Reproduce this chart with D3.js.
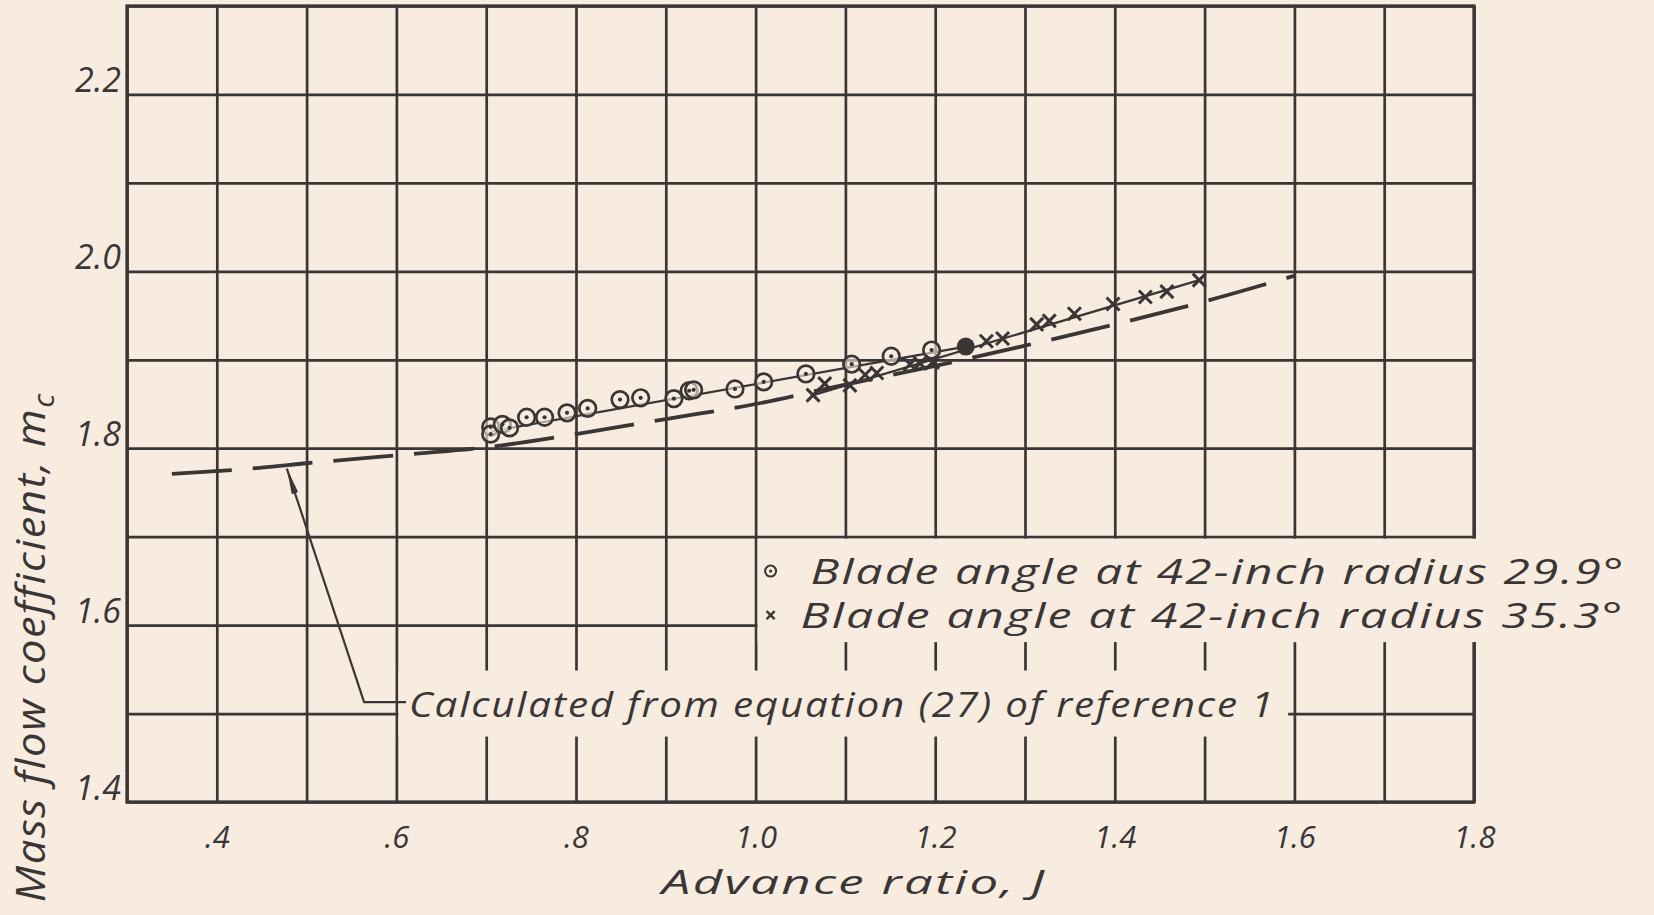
<!DOCTYPE html>
<html>
<head>
<meta charset="utf-8">
<script src="https://cdn.jsdelivr.net/npm/d3@7"></script>
<style>
  html, body { margin: 0; padding: 0; background: #f7ecdf; }
  svg { display: block; }
  text { font-family: "Open Sans", "DejaVu Sans", sans-serif; font-style: italic; fill: #3b3636; }
</style>
</head>
<body>
<svg id="chart" width="1654" height="915"></svg>
<script>
// ---- Data -----------------------------------------------------------------
// Blade angle at 42-inch radius 29.9 deg (open circles)
const circleJ  = [0.705, 0.705, 0.718, 0.726, 0.745, 0.765, 0.790, 0.813, 0.849, 0.872,
                  0.909, 0.926, 0.931, 0.977, 1.009, 1.056, 1.107, 1.151, 1.196];
const circleMc = [1.824, 1.816, 1.827, 1.823, 1.835, 1.835, 1.840, 1.845, 1.855, 1.857,
                  1.856, 1.865, 1.866, 1.867, 1.875, 1.884, 1.895, 1.904, 1.911];
// Point common to both runs (solid symbol)
const solidJ  = [1.234];
const solidMc = [1.915];
// Blade angle at 42-inch radius 35.3 deg (crosses)
const crossJ  = [1.064, 1.077, 1.105, 1.122, 1.135, 1.172, 1.183, 1.197, 1.257, 1.275,
                 1.313, 1.327, 1.355, 1.398, 1.434, 1.458, 1.494];
const crossMc = [1.860, 1.873, 1.871, 1.883, 1.885, 1.895, 1.896, 1.897, 1.921, 1.924,
                 1.940, 1.944, 1.952, 1.963, 1.971, 1.977, 1.990];
// Faired lines through the test points
const fairCircleJ  = [0.705, 1.234];
const fairCircleMc = [1.819, 1.915];
const fairCrossJ   = [1.064, 1.494];
const fairCrossMc  = [1.860, 1.990];
// Calculated from equation (27) of reference 1
const calcJ  = [0.35, 0.45, 0.50, 0.60, 0.70, 0.80, 0.90, 1.00, 1.10, 1.20, 1.30, 1.40, 1.50, 1.60];
const calcMc = [1.771, 1.778, 1.783, 1.792, 1.801, 1.816, 1.833, 1.850, 1.872, 1.893, 1.916, 1.940, 1.966, 1.995];
// Arrow from the note to the calculated curve: tip, then elbow
const noteJ  = [0.478, 0.564];
const noteMc = [1.777, 1.513];

// Axes
const xDomain = [0.3, 1.8];
const yDomain = [1.4, 2.3];
const xTickValues = [0.4, 0.6, 0.8, 1.0, 1.2, 1.4, 1.6, 1.8];
const xTickLabels = [".4", ".6", ".8", "1.0", "1.2", "1.4", "1.6", "1.8"];
const yTickValues = [1.4, 1.6, 1.8, 2.0, 2.2];
const yTickLabels = ["1.4", "1.6", "1.8", "2.0", "2.2"];
const xTitle = "Advance ratio, J";
const yTitle = "Mass flow coefficient, m";
const yTitleSub = "c";
const legendLabels = ["Blade angle at 42-inch radius 29.9°", "Blade angle at 42-inch radius 35.3°"];
const noteText = "Calculated from equation (27) of reference 1";

// ---- Layout ---------------------------------------------------------------
const ink = "#3b3636";
const paper = "#f7ecdf";
const margin = { left: 127, right: 180, top: 6, bottom: 113 };
const W = 1654, H = 915;
const pw = W - margin.left - margin.right;
const ph = H - margin.top - margin.bottom;

const svg = d3.select("#chart");
svg.append("rect").attr("width", W).attr("height", H).attr("fill", paper);

const g = svg.append("g").attr("transform", `translate(${margin.left},${margin.top})`);
const x = d3.scaleLinear().domain(xDomain).range([0, pw]);
const y = d3.scaleLinear().domain(yDomain).range([ph, 0]);

const gridJ  = d3.range(3, 19).map(i => i / 10);
const gridMc = d3.range(14, 24).map(i => i / 10);

// Lettering helper: wide, evenly spaced hand lettering
function letter(sel, size, len) {
  return sel.attr("font-size", size)
    .attr("letter-spacing", 1.5)
    .attr("textLength", len)
    .attr("lengthAdjust", "spacingAndGlyphs");
}

// ---- Grid -----------------------------------------------------------------
const gridX = g.append("g").attr("transform", `translate(0,${ph})`)
  .call(d3.axisBottom(x).tickValues(gridJ).tickSize(-ph).tickFormat(""));
const gridY = g.append("g")
  .call(d3.axisLeft(y).tickValues(gridMc).tickSize(-pw).tickFormat(""));
[gridX, gridY].forEach(a => {
  a.select(".domain").remove();
  a.selectAll("line").attr("stroke", ink).attr("stroke-width", 2.7);
});
g.append("rect").attr("x", 0).attr("y", 0).attr("width", pw).attr("height", ph)
  .attr("fill", "none").attr("stroke", ink).attr("stroke-width", 3.3);

// ---- Tick labels ----------------------------------------------------------
const xAxis = g.append("g").attr("transform", `translate(0,${ph})`)
  .call(d3.axisBottom(x).tickValues(xTickValues).tickSize(0)
    .tickFormat((d, i) => xTickLabels[i]));
xAxis.select(".domain").remove();
xAxis.selectAll("text").attr("y", 46).attr("dy", 0)
  .attr("font-size", 31).attr("fill", ink);

const yAxis = g.append("g")
  .call(d3.axisLeft(y).tickValues(yTickValues).tickSize(0)
    .tickFormat((d, i) => yTickLabels[i]));
yAxis.select(".domain").remove();
yAxis.selectAll("text").attr("x", -6).attr("dy", -3)
  .attr("font-size", 34).attr("fill", ink);

// ---- Axis titles ----------------------------------------------------------
letter(svg.append("text")
  .attr("x", margin.left + x(1.11)).attr("y", margin.top + ph + 92)
  .attr("text-anchor", "middle"), 33, 385)
  .text(xTitle);

const yt = letter(svg.append("text")
  .attr("transform", `translate(45,${margin.top + y(1.575)}) rotate(-90)`)
  .attr("text-anchor", "middle"), 41, 510);
yt.append("tspan").text(yTitle);
yt.append("tspan").attr("font-size", 29).attr("dy", 9).text(yTitleSub);

// ---- Legend (lettered over a cleared patch of the grid) --------------------
const legendG = g.append("g");
const legBase = [y(1.6) - 41, y(1.6) + 3];
const legTextX = [x(1.0) + 55, x(1.0) + 45];
const legTextLen = [815, 824];
const legMask = legendG.append("rect").attr("fill", paper);
legendLabels.forEach((t, i) => {
  letter(legendG.append("text")
    .attr("x", legTextX[i]).attr("y", legBase[i]), 34, legTextLen[i])
    .text(t);
});
const legBox = legendG.node().getBBox();
legMask.attr("x", x(1.0) + 2).attr("y", y(1.7) + 2)
  .attr("width", legBox.x + legBox.width + 12 - x(1.0))
  .attr("height", legBase[1] + 12 - y(1.7));
const legMarkX = x(1.0) + 15;
legendG.append("circle").attr("cx", legMarkX).attr("cy", legBase[0] - 13).attr("r", 5.5)
  .attr("fill", "none").attr("stroke", ink).attr("stroke-width", 2);
legendG.append("circle").attr("cx", legMarkX).attr("cy", legBase[0] - 13).attr("r", 1.6)
  .attr("fill", ink);
legendG.append("path")
  .attr("d", `M${legMarkX - 4},${legBase[1] - 17}L${legMarkX + 4},${legBase[1] - 9}` +
             `M${legMarkX + 4},${legBase[1] - 17}L${legMarkX - 4},${legBase[1] - 9}`)
  .attr("stroke", ink).attr("stroke-width", 2.4);

// ---- Note on the calculated curve -----------------------------------------
const noteG = g.append("g");
const noteMask = noteG.append("rect").attr("fill", paper);
const noteX = x(noteJ[1]) + 45;
const noteT = letter(noteG.append("text")
  .attr("x", noteX).attr("y", y(1.5) + 3), 34, 866)
  .text(noteText);
const nb = noteT.node().getBBox();
noteMask.attr("x", x(0.6) + 2).attr("y", nb.y - 10)
  .attr("width", nb.x + nb.width + 13 - x(0.6) - 2).attr("height", nb.height + 20);

svg.append("defs").append("marker")
  .attr("id", "arrowHead").attr("viewBox", "0 0 26 8")
  .attr("refX", 0).attr("refY", 4)
  .attr("markerWidth", 26).attr("markerHeight", 8)
  .attr("markerUnits", "userSpaceOnUse").attr("orient", "auto")
  .append("path").attr("d", "M0,4L26,0.6L26,7.4Z").attr("fill", ink);

const leader = [
  [x(noteJ[0]), y(noteMc[0])],
  [x(noteJ[1]), y(noteMc[1])],
  [noteX - 3, y(noteMc[1])]
];
noteG.append("path")
  .attr("d", d3.line()(leader))
  .attr("fill", "none").attr("stroke", ink).attr("stroke-width", 2.2)
  .attr("marker-start", "url(#arrowHead)");

// ---- Curves ---------------------------------------------------------------
const line = d3.line().x(d => x(d[0])).y(d => y(d[1]));
const zip = (a, b) => a.map((v, i) => [v, b[i]]);

g.append("path")
  .attr("d", line.curve(d3.curveMonotoneX)(zip(calcJ, calcMc)))
  .attr("fill", "none").attr("stroke", ink).attr("stroke-width", 3.8)
  .attr("stroke-dasharray", "60 21");

line.curve(d3.curveLinear);
[[fairCircleJ, fairCircleMc], [fairCrossJ, fairCrossMc]].forEach(([a, b]) => {
  g.append("path").attr("d", line(zip(a, b)))
    .attr("fill", "none").attr("stroke", ink).attr("stroke-width", 2.3);
});

// ---- Test points ----------------------------------------------------------
const circles = zip(circleJ, circleMc);
const cg = g.append("g");
cg.selectAll("circle.ring").data(circles).join("circle")
  .attr("class", "ring")
  .attr("cx", d => x(d[0])).attr("cy", d => y(d[1])).attr("r", 8.3)
  .attr("fill", paper).attr("fill-opacity", 0.6)
  .attr("stroke", ink).attr("stroke-width", 2.7);
cg.selectAll("circle.dot").data(circles).join("circle")
  .attr("class", "dot")
  .attr("cx", d => x(d[0])).attr("cy", d => y(d[1])).attr("r", 2.1)
  .attr("fill", ink);

g.selectAll("circle.solid").data(zip(solidJ, solidMc)).join("circle")
  .attr("class", "solid")
  .attr("cx", d => x(d[0])).attr("cy", d => y(d[1])).attr("r", 9)
  .attr("fill", ink);

const s = 6.5;
g.selectAll("path.cross").data(zip(crossJ, crossMc)).join("path")
  .attr("class", "cross")
  .attr("d", d => {
    const cx = x(d[0]), cy = y(d[1]);
    return `M${cx - s},${cy - s}L${cx + s},${cy + s}M${cx + s},${cy - s}L${cx - s},${cy + s}`;
  })
  .attr("stroke", ink).attr("stroke-width", 3).attr("fill", "none");
</script>
</body>
</html>
